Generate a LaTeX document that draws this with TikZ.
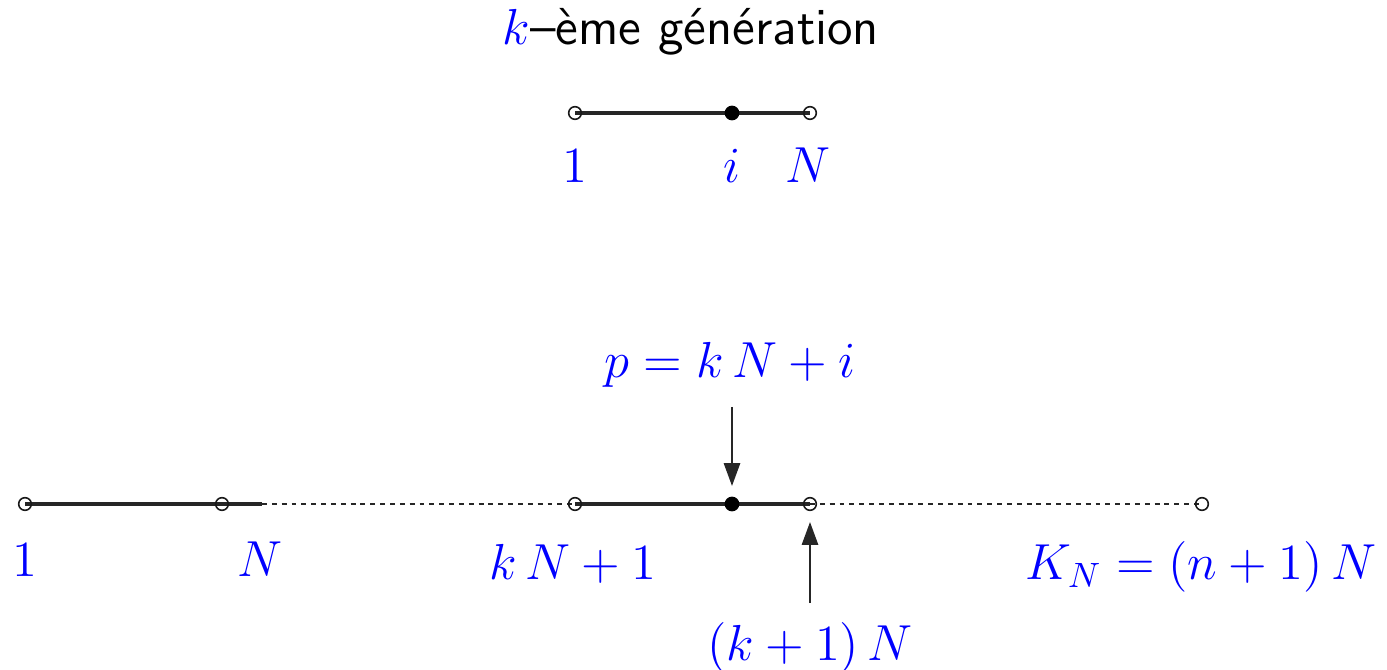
\documentclass[tikz,border=0pt]{standalone}
\usetikzlibrary{arrows.meta}
\definecolor{lblue}{RGB}{0,0,255}
\begin{document}
\begin{tikzpicture}[x=0.01cm,y=-0.01cm,
  lbl/.style={text=lblue,font=\fontsize{14.9}{17}\selectfont,anchor=base,inner sep=1pt},
  opendot/.style={circle,draw=black!90,line width=0.45pt,minimum size=3.6pt,inner sep=0pt},
  fulldot/.style={circle,fill=black,minimum size=4.2pt,inner sep=0pt},
  seg/.style={line width=1.1pt,black!85},
  dots/.style={line width=0.45pt,black!85,dash pattern=on 1.4pt off 1.4pt},
  arr/.style={line width=0.6pt,black!85,-{Triangle[length=6.5pt,width=4.6pt]}}]
\useasboundingbox (0,0) rectangle (1387,670);
% title
\node[anchor=base,inner sep=0pt,font=\fontsize{14.8}{17}\selectfont\sffamily] (title) at (691,45) {\textcolor{lblue}{$k$}--ème génération};
% top line
\coordinate (t1) at (575,113);
\coordinate (ti) at (732,113);
\coordinate (tN) at (810,113);
\draw[seg] (t1) -- (tN);
\node[opendot] (t1d) at (t1) {};
\node[opendot] (tNd) at (tN) {};
\node[fulldot] (tid) at (ti) {};
\node[lbl] (l1) at (575,183) {$1$};
\node[lbl] (li) at (732,183) {$i$};
\node[lbl] (lN) at (808,183) {$N$};
% bottom line
\coordinate (b1) at (25,504);
\coordinate (bN) at (222,504);
\coordinate (bNe) at (262,504);
\coordinate (bk) at (575,504);
\coordinate (bp) at (732,504);
\coordinate (bk1) at (810,504);
\coordinate (bK) at (1202,504);
\draw[seg] (b1) -- (bNe);
\draw[dots] (bNe) -- (bk);
\draw[seg] (bk) -- (bk1);
\draw[dots] (bk1) -- (bK);
\node[opendot] (b1d) at (b1) {};
\node[opendot] (bNd) at (bN) {};
\node[opendot] (bkd) at (bk) {};
\node[opendot] (bk1d) at (bk1) {};
\node[opendot] (bKd) at (bK) {};
\node[fulldot] (bpd) at (bp) {};
\node[lbl] (m1) at (25,577) {$1$};
\node[lbl] (mN) at (260,577) {$N$};
\node[lbl] (mk) at (573,580) {$k\,N+1$};
\node[lbl] (mK) at (1201,580) {$K_N=(n+1)\,N$};
\node[lbl] (mp) at (730,378) {$p=k\,N+i$};
\node[lbl] (mk1) at (810,660) {$(k+1)\,N$};
% arrows
\coordinate (pa) at (732,407);
\coordinate (pb) at (732,486);
\coordinate (qa) at (810,603);
\coordinate (qb) at (810,522);
\draw[arr] (pa) -- (pb);
\draw[arr] (qa) -- (qb);
\end{tikzpicture}
\end{document}
